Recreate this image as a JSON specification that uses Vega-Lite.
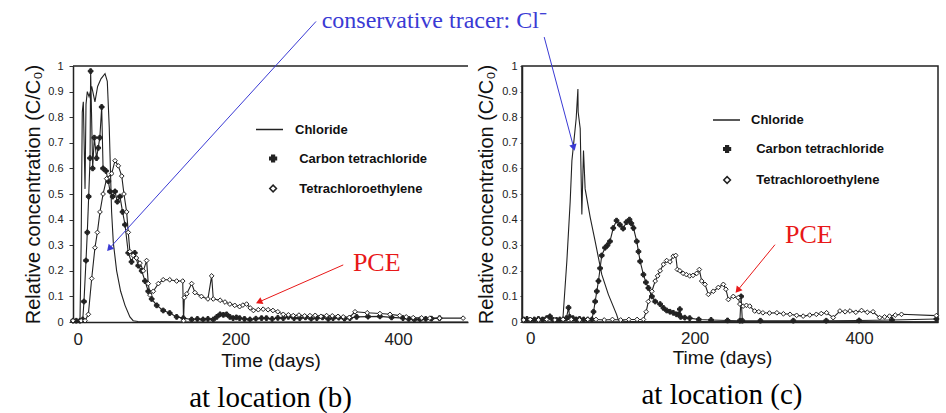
{
  "$schema": "https://vega.github.io/schema/vega-lite/v6.json",
  "background": "white",
  "padding": {"left": 23, "top": 9, "right": 8, "bottom": 0},
  "bounds": "flush",
  "spacing": 54,
  "datasets": {
    "b": [
      {"t":0,"c":0,"s":"Chloride"},{"t":5,"c":0.002,"s":"Chloride"},{"t":8.6,"c":0.005,"s":"Chloride"},{"t":10,"c":0.3,"s":"Chloride"},{"t":11.4,"c":0.82,"s":"Chloride"},{"t":12.7,"c":0.86,"s":"Chloride"},{"t":14.8,"c":0.52,"s":"Chloride"},{"t":16,"c":0.85,"s":"Chloride"},{"t":17.6,"c":0.9,"s":"Chloride"},{"t":19.8,"c":0.88,"s":"Chloride"},{"t":23,"c":0.92,"s":"Chloride"},{"t":27,"c":0.86,"s":"Chloride"},{"t":30.3,"c":0.92,"s":"Chloride"},{"t":34.4,"c":0.95,"s":"Chloride"},{"t":39.4,"c":0.97,"s":"Chloride"},{"t":42.2,"c":0.94,"s":"Chloride"},{"t":44.6,"c":0.76,"s":"Chloride"},{"t":47.5,"c":0.43,"s":"Chloride"},{"t":49.6,"c":0.31,"s":"Chloride"},{"t":53.7,"c":0.2,"s":"Chloride"},{"t":58.6,"c":0.12,"s":"Chloride"},{"t":64,"c":0.065,"s":"Chloride"},{"t":70,"c":0.02,"s":"Chloride"},{"t":74,"c":0.005,"s":"Chloride"},{"t":80,"c":0.002,"s":"Chloride"},{"t":150,"c":0,"s":"Chloride"},{"t":486,"c":0,"s":"Chloride"},
      {"t":0,"c":0.005,"s":"Carbon tetrachloride"},{"t":4,"c":0.005,"s":"Carbon tetrachloride"},{"t":8.6,"c":0.005,"s":"Carbon tetrachloride"},{"t":12,"c":0.01,"s":"Carbon tetrachloride"},{"t":13.5,"c":0.08,"s":"Carbon tetrachloride"},{"t":16,"c":0.24,"s":"Carbon tetrachloride"},{"t":17.6,"c":0.35,"s":"Carbon tetrachloride"},{"t":19.3,"c":0.49,"s":"Carbon tetrachloride"},{"t":21,"c":0.64,"s":"Carbon tetrachloride"},{"t":21.7,"c":0.98,"s":"Carbon tetrachloride"},{"t":24.2,"c":0.6,"s":"Carbon tetrachloride"},{"t":26.2,"c":0.72,"s":"Carbon tetrachloride"},{"t":29,"c":0.64,"s":"Carbon tetrachloride"},{"t":31,"c":0.68,"s":"Carbon tetrachloride"},{"t":33,"c":0.72,"s":"Carbon tetrachloride"},{"t":35.3,"c":0.84,"s":"Carbon tetrachloride"},{"t":37,"c":0.6,"s":"Carbon tetrachloride"},{"t":40.6,"c":0.59,"s":"Carbon tetrachloride"},{"t":43.5,"c":0.55,"s":"Carbon tetrachloride"},{"t":45.5,"c":0.51,"s":"Carbon tetrachloride"},{"t":48.8,"c":0.49,"s":"Carbon tetrachloride"},{"t":51.7,"c":0.51,"s":"Carbon tetrachloride"},{"t":54.5,"c":0.47,"s":"Carbon tetrachloride"},{"t":57.8,"c":0.49,"s":"Carbon tetrachloride"},{"t":61,"c":0.43,"s":"Carbon tetrachloride"},{"t":64,"c":0.38,"s":"Carbon tetrachloride"},{"t":68,"c":0.27,"s":"Carbon tetrachloride"},{"t":72,"c":0.235,"s":"Carbon tetrachloride"},{"t":76,"c":0.27,"s":"Carbon tetrachloride"},{"t":80.3,"c":0.22,"s":"Carbon tetrachloride"},{"t":84.5,"c":0.2,"s":"Carbon tetrachloride"},{"t":88.6,"c":0.16,"s":"Carbon tetrachloride"},{"t":92.6,"c":0.12,"s":"Carbon tetrachloride"},{"t":96.8,"c":0.09,"s":"Carbon tetrachloride"},{"t":103,"c":0.065,"s":"Carbon tetrachloride"},{"t":111,"c":0.045,"s":"Carbon tetrachloride"},{"t":119,"c":0.035,"s":"Carbon tetrachloride"},{"t":127.5,"c":0.02,"s":"Carbon tetrachloride"},{"t":135.7,"c":0.015,"s":"Carbon tetrachloride"},{"t":146,"c":0.01,"s":"Carbon tetrachloride"},{"t":153,"c":0.012,"s":"Carbon tetrachloride"},{"t":160,"c":0.01,"s":"Carbon tetrachloride"},{"t":166,"c":0.012,"s":"Carbon tetrachloride"},{"t":172.6,"c":0.01,"s":"Carbon tetrachloride"},{"t":177,"c":0.02,"s":"Carbon tetrachloride"},{"t":181,"c":0.03,"s":"Carbon tetrachloride"},{"t":185,"c":0.028,"s":"Carbon tetrachloride"},{"t":189,"c":0.03,"s":"Carbon tetrachloride"},{"t":193,"c":0.02,"s":"Carbon tetrachloride"},{"t":197,"c":0.015,"s":"Carbon tetrachloride"},{"t":201,"c":0.018,"s":"Carbon tetrachloride"},{"t":205,"c":0.015,"s":"Carbon tetrachloride"},{"t":211,"c":0.012,"s":"Carbon tetrachloride"},{"t":217.7,"c":0.01,"s":"Carbon tetrachloride"},{"t":225,"c":0.013,"s":"Carbon tetrachloride"},{"t":232,"c":0.015,"s":"Carbon tetrachloride"},{"t":238,"c":0.015,"s":"Carbon tetrachloride"},{"t":245,"c":0.012,"s":"Carbon tetrachloride"},{"t":252,"c":0.016,"s":"Carbon tetrachloride"},{"t":258.7,"c":0.015,"s":"Carbon tetrachloride"},{"t":265,"c":0.02,"s":"Carbon tetrachloride"},{"t":272,"c":0.015,"s":"Carbon tetrachloride"},{"t":279,"c":0.015,"s":"Carbon tetrachloride"},{"t":286,"c":0.018,"s":"Carbon tetrachloride"},{"t":293,"c":0.013,"s":"Carbon tetrachloride"},{"t":300,"c":0.015,"s":"Carbon tetrachloride"},{"t":307,"c":0.018,"s":"Carbon tetrachloride"},{"t":314,"c":0.012,"s":"Carbon tetrachloride"},{"t":320,"c":0.015,"s":"Carbon tetrachloride"},{"t":327,"c":0.017,"s":"Carbon tetrachloride"},{"t":334,"c":0.013,"s":"Carbon tetrachloride"},{"t":340.7,"c":0.015,"s":"Carbon tetrachloride"},{"t":349,"c":0.02,"s":"Carbon tetrachloride"},{"t":363,"c":0.021,"s":"Carbon tetrachloride"},{"t":377.6,"c":0.022,"s":"Carbon tetrachloride"},{"t":392,"c":0.018,"s":"Carbon tetrachloride"},{"t":406,"c":0.015,"s":"Carbon tetrachloride"},{"t":413,"c":0.012,"s":"Carbon tetrachloride"},{"t":420,"c":0.01,"s":"Carbon tetrachloride"},{"t":427,"c":0.01,"s":"Carbon tetrachloride"},{"t":434,"c":0.012,"s":"Carbon tetrachloride"},{"t":441,"c":0.013,"s":"Carbon tetrachloride"},{"t":451,"c":0.015,"s":"Carbon tetrachloride"},
      {"t":0,"c":0.005,"s":"Tetrachloroethylene"},{"t":10,"c":0.005,"s":"Tetrachloroethylene"},{"t":14.8,"c":0.005,"s":"Tetrachloroethylene"},{"t":18.9,"c":0.03,"s":"Tetrachloroethylene"},{"t":23,"c":0.17,"s":"Tetrachloroethylene"},{"t":27,"c":0.29,"s":"Tetrachloroethylene"},{"t":30,"c":0.35,"s":"Tetrachloroethylene"},{"t":33.2,"c":0.43,"s":"Tetrachloroethylene"},{"t":37,"c":0.5,"s":"Tetrachloroethylene"},{"t":41.4,"c":0.56,"s":"Tetrachloroethylene"},{"t":47.6,"c":0.58,"s":"Tetrachloroethylene"},{"t":51.7,"c":0.63,"s":"Tetrachloroethylene"},{"t":55.7,"c":0.61,"s":"Tetrachloroethylene"},{"t":60,"c":0.57,"s":"Tetrachloroethylene"},{"t":62.7,"c":0.5,"s":"Tetrachloroethylene"},{"t":66,"c":0.43,"s":"Tetrachloroethylene"},{"t":68,"c":0.35,"s":"Tetrachloroethylene"},{"t":70,"c":0.275,"s":"Tetrachloroethylene"},{"t":74,"c":0.26,"s":"Tetrachloroethylene"},{"t":78,"c":0.25,"s":"Tetrachloroethylene"},{"t":82.4,"c":0.23,"s":"Tetrachloroethylene"},{"t":86.5,"c":0.2,"s":"Tetrachloroethylene"},{"t":90.6,"c":0.24,"s":"Tetrachloroethylene"},{"t":92.6,"c":0.15,"s":"Tetrachloroethylene"},{"t":94.7,"c":0.105,"s":"Tetrachloroethylene"},{"t":98.8,"c":0.12,"s":"Tetrachloroethylene"},{"t":105,"c":0.15,"s":"Tetrachloroethylene"},{"t":111,"c":0.165,"s":"Tetrachloroethylene"},{"t":119,"c":0.165,"s":"Tetrachloroethylene"},{"t":127.5,"c":0.16,"s":"Tetrachloroethylene"},{"t":135,"c":0.16,"s":"Tetrachloroethylene"},{"t":136,"c":0.005,"s":"Tetrachloroethylene"},{"t":137,"c":0.095,"s":"Tetrachloroethylene"},{"t":140,"c":0.11,"s":"Tetrachloroethylene"},{"t":146,"c":0.15,"s":"Tetrachloroethylene"},{"t":150,"c":0.115,"s":"Tetrachloroethylene"},{"t":158,"c":0.1,"s":"Tetrachloroethylene"},{"t":166,"c":0.09,"s":"Tetrachloroethylene"},{"t":170.6,"c":0.18,"s":"Tetrachloroethylene"},{"t":172.6,"c":0.09,"s":"Tetrachloroethylene"},{"t":181,"c":0.085,"s":"Tetrachloroethylene"},{"t":187,"c":0.078,"s":"Tetrachloroethylene"},{"t":193,"c":0.07,"s":"Tetrachloroethylene"},{"t":199,"c":0.065,"s":"Tetrachloroethylene"},{"t":205,"c":0.06,"s":"Tetrachloroethylene"},{"t":209,"c":0.066,"s":"Tetrachloroethylene"},{"t":213.6,"c":0.07,"s":"Tetrachloroethylene"},{"t":218,"c":0.055,"s":"Tetrachloroethylene"},{"t":222,"c":0.045,"s":"Tetrachloroethylene"},{"t":228,"c":0.048,"s":"Tetrachloroethylene"},{"t":234,"c":0.05,"s":"Tetrachloroethylene"},{"t":240,"c":0.048,"s":"Tetrachloroethylene"},{"t":246,"c":0.045,"s":"Tetrachloroethylene"},{"t":252,"c":0.04,"s":"Tetrachloroethylene"},{"t":258.7,"c":0.03,"s":"Tetrachloroethylene"},{"t":265,"c":0.028,"s":"Tetrachloroethylene"},{"t":271,"c":0.025,"s":"Tetrachloroethylene"},{"t":278,"c":0.027,"s":"Tetrachloroethylene"},{"t":285,"c":0.024,"s":"Tetrachloroethylene"},{"t":291.5,"c":0.025,"s":"Tetrachloroethylene"},{"t":298,"c":0.026,"s":"Tetrachloroethylene"},{"t":305,"c":0.022,"s":"Tetrachloroethylene"},{"t":312,"c":0.025,"s":"Tetrachloroethylene"},{"t":319,"c":0.024,"s":"Tetrachloroethylene"},{"t":326,"c":0.022,"s":"Tetrachloroethylene"},{"t":332.5,"c":0.02,"s":"Tetrachloroethylene"},{"t":340,"c":0.018,"s":"Tetrachloroethylene"},{"t":347,"c":0.04,"s":"Tetrachloroethylene"},{"t":362,"c":0.036,"s":"Tetrachloroethylene"},{"t":377.6,"c":0.033,"s":"Tetrachloroethylene"},{"t":390,"c":0.03,"s":"Tetrachloroethylene"},{"t":402,"c":0.025,"s":"Tetrachloroethylene"},{"t":410,"c":0.02,"s":"Tetrachloroethylene"},{"t":418.6,"c":0.017,"s":"Tetrachloroethylene"},{"t":429,"c":0.016,"s":"Tetrachloroethylene"},{"t":439,"c":0.015,"s":"Tetrachloroethylene"},{"t":451,"c":0.015,"s":"Tetrachloroethylene"},{"t":480,"c":0.015,"s":"Tetrachloroethylene"}
    ],
    "c": [
      {"t":-8,"c":0.005,"s":"Chloride"},{"t":0,"c":0.005,"s":"Chloride"},{"t":10,"c":0.005,"s":"Chloride"},{"t":20,"c":0.01,"s":"Chloride"},{"t":24,"c":0.02,"s":"Chloride"},{"t":28,"c":0.005,"s":"Chloride"},{"t":36,"c":0.003,"s":"Chloride"},{"t":39.7,"c":0.01,"s":"Chloride"},{"t":44.6,"c":0.24,"s":"Chloride"},{"t":48.6,"c":0.47,"s":"Chloride"},{"t":50.7,"c":0.63,"s":"Chloride"},{"t":52.6,"c":0.69,"s":"Chloride"},{"t":55.9,"c":0.795,"s":"Chloride"},{"t":58,"c":0.91,"s":"Chloride"},{"t":58.3,"c":0.82,"s":"Chloride"},{"t":60.8,"c":0.756,"s":"Chloride"},{"t":62.8,"c":0.42,"s":"Chloride"},{"t":64.8,"c":0.67,"s":"Chloride"},{"t":66.8,"c":0.52,"s":"Chloride"},{"t":72.9,"c":0.41,"s":"Chloride"},{"t":79,"c":0.315,"s":"Chloride"},{"t":87,"c":0.186,"s":"Chloride"},{"t":95,"c":0.108,"s":"Chloride"},{"t":105,"c":0.03,"s":"Chloride"},{"t":107,"c":0.01,"s":"Chloride"},{"t":115,"c":0.003,"s":"Chloride"},{"t":150,"c":0.002,"s":"Chloride"},{"t":250,"c":0.001,"s":"Chloride"},{"t":494,"c":0,"s":"Chloride"},
      {"t":-8,"c":0.01,"s":"Carbon tetrachloride"},{"t":-4,"c":0.012,"s":"Carbon tetrachloride"},{"t":0,"c":0.008,"s":"Carbon tetrachloride"},{"t":5,"c":0.01,"s":"Carbon tetrachloride"},{"t":10,"c":0.012,"s":"Carbon tetrachloride"},{"t":15,"c":0.01,"s":"Carbon tetrachloride"},{"t":20,"c":0.015,"s":"Carbon tetrachloride"},{"t":24,"c":0.022,"s":"Carbon tetrachloride"},{"t":28,"c":0.008,"s":"Carbon tetrachloride"},{"t":32,"c":0.008,"s":"Carbon tetrachloride"},{"t":36,"c":0.01,"s":"Carbon tetrachloride"},{"t":40,"c":0.01,"s":"Carbon tetrachloride"},{"t":44,"c":0.015,"s":"Carbon tetrachloride"},{"t":46.6,"c":0.056,"s":"Carbon tetrachloride"},{"t":48,"c":0.02,"s":"Carbon tetrachloride"},{"t":52,"c":0.015,"s":"Carbon tetrachloride"},{"t":56,"c":0.01,"s":"Carbon tetrachloride"},{"t":60,"c":0.012,"s":"Carbon tetrachloride"},{"t":65,"c":0.01,"s":"Carbon tetrachloride"},{"t":70,"c":0.01,"s":"Carbon tetrachloride"},{"t":75,"c":0.01,"s":"Carbon tetrachloride"},{"t":77,"c":0.04,"s":"Carbon tetrachloride"},{"t":79,"c":0.08,"s":"Carbon tetrachloride"},{"t":81,"c":0.12,"s":"Carbon tetrachloride"},{"t":83,"c":0.16,"s":"Carbon tetrachloride"},{"t":85,"c":0.21,"s":"Carbon tetrachloride"},{"t":87,"c":0.26,"s":"Carbon tetrachloride"},{"t":91,"c":0.29,"s":"Carbon tetrachloride"},{"t":94,"c":0.3,"s":"Carbon tetrachloride"},{"t":97,"c":0.315,"s":"Carbon tetrachloride"},{"t":101,"c":0.367,"s":"Carbon tetrachloride"},{"t":105,"c":0.396,"s":"Carbon tetrachloride"},{"t":109,"c":0.38,"s":"Carbon tetrachloride"},{"t":113,"c":0.365,"s":"Carbon tetrachloride"},{"t":117,"c":0.39,"s":"Carbon tetrachloride"},{"t":120.7,"c":0.4,"s":"Carbon tetrachloride"},{"t":123,"c":0.385,"s":"Carbon tetrachloride"},{"t":125.6,"c":0.367,"s":"Carbon tetrachloride"},{"t":129.6,"c":0.315,"s":"Carbon tetrachloride"},{"t":131.7,"c":0.275,"s":"Carbon tetrachloride"},{"t":133.7,"c":0.237,"s":"Carbon tetrachloride"},{"t":137.7,"c":0.185,"s":"Carbon tetrachloride"},{"t":140.7,"c":0.155,"s":"Carbon tetrachloride"},{"t":143.7,"c":0.133,"s":"Carbon tetrachloride"},{"t":148,"c":0.1,"s":"Carbon tetrachloride"},{"t":152,"c":0.08,"s":"Carbon tetrachloride"},{"t":158,"c":0.07,"s":"Carbon tetrachloride"},{"t":162,"c":0.055,"s":"Carbon tetrachloride"},{"t":166,"c":0.045,"s":"Carbon tetrachloride"},{"t":170,"c":0.04,"s":"Carbon tetrachloride"},{"t":174,"c":0.036,"s":"Carbon tetrachloride"},{"t":178,"c":0.03,"s":"Carbon tetrachloride"},{"t":181,"c":0.03,"s":"Carbon tetrachloride"},{"t":182,"c":0.05,"s":"Carbon tetrachloride"},{"t":183,"c":0.02,"s":"Carbon tetrachloride"},{"t":188,"c":0.017,"s":"Carbon tetrachloride"},{"t":194,"c":0.015,"s":"Carbon tetrachloride"},{"t":205,"c":0.01,"s":"Carbon tetrachloride"},{"t":220,"c":0.008,"s":"Carbon tetrachloride"},{"t":240,"c":0.006,"s":"Carbon tetrachloride"},{"t":255,"c":0.005,"s":"Carbon tetrachloride"},{"t":256.5,"c":0.1,"s":"Carbon tetrachloride"},{"t":258,"c":0.005,"s":"Carbon tetrachloride"},{"t":280,"c":0.005,"s":"Carbon tetrachloride"},{"t":320,"c":0.005,"s":"Carbon tetrachloride"},{"t":360,"c":0.005,"s":"Carbon tetrachloride"},{"t":400,"c":0.006,"s":"Carbon tetrachloride"},{"t":440,"c":0.008,"s":"Carbon tetrachloride"},{"t":494,"c":0.012,"s":"Carbon tetrachloride"},
      {"t":-8,"c":0.008,"s":"Tetrachloroethylene"},{"t":0,"c":0.01,"s":"Tetrachloroethylene"},{"t":10,"c":0.008,"s":"Tetrachloroethylene"},{"t":20,"c":0.01,"s":"Tetrachloroethylene"},{"t":30,"c":0.008,"s":"Tetrachloroethylene"},{"t":40,"c":0.01,"s":"Tetrachloroethylene"},{"t":50,"c":0.01,"s":"Tetrachloroethylene"},{"t":60,"c":0.008,"s":"Tetrachloroethylene"},{"t":70,"c":0.01,"s":"Tetrachloroethylene"},{"t":80,"c":0.01,"s":"Tetrachloroethylene"},{"t":90,"c":0.008,"s":"Tetrachloroethylene"},{"t":100,"c":0.01,"s":"Tetrachloroethylene"},{"t":110,"c":0.008,"s":"Tetrachloroethylene"},{"t":120,"c":0.01,"s":"Tetrachloroethylene"},{"t":130,"c":0.01,"s":"Tetrachloroethylene"},{"t":137.7,"c":0.01,"s":"Tetrachloroethylene"},{"t":141,"c":0.04,"s":"Tetrachloroethylene"},{"t":143.7,"c":0.08,"s":"Tetrachloroethylene"},{"t":148,"c":0.12,"s":"Tetrachloroethylene"},{"t":152,"c":0.16,"s":"Tetrachloroethylene"},{"t":155,"c":0.18,"s":"Tetrachloroethylene"},{"t":158,"c":0.2,"s":"Tetrachloroethylene"},{"t":162,"c":0.225,"s":"Tetrachloroethylene"},{"t":166,"c":0.24,"s":"Tetrachloroethylene"},{"t":170,"c":0.235,"s":"Tetrachloroethylene"},{"t":174,"c":0.257,"s":"Tetrachloroethylene"},{"t":177,"c":0.26,"s":"Tetrachloroethylene"},{"t":179,"c":0.205,"s":"Tetrachloroethylene"},{"t":182,"c":0.2,"s":"Tetrachloroethylene"},{"t":186,"c":0.19,"s":"Tetrachloroethylene"},{"t":190,"c":0.185,"s":"Tetrachloroethylene"},{"t":194,"c":0.18,"s":"Tetrachloroethylene"},{"t":198,"c":0.182,"s":"Tetrachloroethylene"},{"t":202.5,"c":0.19,"s":"Tetrachloroethylene"},{"t":205.7,"c":0.205,"s":"Tetrachloroethylene"},{"t":208.6,"c":0.16,"s":"Tetrachloroethylene"},{"t":212.6,"c":0.147,"s":"Tetrachloroethylene"},{"t":216.7,"c":0.108,"s":"Tetrachloroethylene"},{"t":222.7,"c":0.12,"s":"Tetrachloroethylene"},{"t":228.8,"c":0.135,"s":"Tetrachloroethylene"},{"t":234.9,"c":0.147,"s":"Tetrachloroethylene"},{"t":238,"c":0.128,"s":"Tetrachloroethylene"},{"t":241,"c":0.088,"s":"Tetrachloroethylene"},{"t":247,"c":0.1,"s":"Tetrachloroethylene"},{"t":253,"c":0.095,"s":"Tetrachloroethylene"},{"t":255,"c":0.07,"s":"Tetrachloroethylene"},{"t":259,"c":0.062,"s":"Tetrachloroethylene"},{"t":263,"c":0.065,"s":"Tetrachloroethylene"},{"t":267,"c":0.062,"s":"Tetrachloroethylene"},{"t":273,"c":0.043,"s":"Tetrachloroethylene"},{"t":278,"c":0.04,"s":"Tetrachloroethylene"},{"t":283,"c":0.036,"s":"Tetrachloroethylene"},{"t":291,"c":0.035,"s":"Tetrachloroethylene"},{"t":300,"c":0.036,"s":"Tetrachloroethylene"},{"t":308,"c":0.032,"s":"Tetrachloroethylene"},{"t":316,"c":0.03,"s":"Tetrachloroethylene"},{"t":324,"c":0.026,"s":"Tetrachloroethylene"},{"t":332,"c":0.023,"s":"Tetrachloroethylene"},{"t":340,"c":0.027,"s":"Tetrachloroethylene"},{"t":348,"c":0.03,"s":"Tetrachloroethylene"},{"t":354,"c":0.033,"s":"Tetrachloroethylene"},{"t":360.5,"c":0.036,"s":"Tetrachloroethylene"},{"t":368.5,"c":0.017,"s":"Tetrachloroethylene"},{"t":376.7,"c":0.043,"s":"Tetrachloroethylene"},{"t":383,"c":0.04,"s":"Tetrachloroethylene"},{"t":389,"c":0.043,"s":"Tetrachloroethylene"},{"t":396,"c":0.038,"s":"Tetrachloroethylene"},{"t":403,"c":0.045,"s":"Tetrachloroethylene"},{"t":410,"c":0.038,"s":"Tetrachloroethylene"},{"t":417,"c":0.04,"s":"Tetrachloroethylene"},{"t":425,"c":0.017,"s":"Tetrachloroethylene"},{"t":431,"c":0.02,"s":"Tetrachloroethylene"},{"t":437,"c":0.023,"s":"Tetrachloroethylene"},{"t":444,"c":0.027,"s":"Tetrachloroethylene"},{"t":451.6,"c":0.03,"s":"Tetrachloroethylene"},{"t":494,"c":0.025,"s":"Tetrachloroethylene"}
    ]
  },
  "hconcat": [
    {
      "width": 395,
      "height": 256,
      "view": {"stroke": null},
      "title": {"text": "at location (b)", "orient": "bottom", "font": "Liberation Serif", "fontSize": 29, "fontWeight": "normal", "color": "#000", "offset": 14},
      "layer": [
        {
          "data": {"name": "b"},
          "mark": {"type": "line", "color": "#222", "strokeWidth": 1.1},
          "encoding": {
            "x": {"field": "t", "type": "quantitative", "scale": {"domain": [0, 486], "nice": false, "zero": false},
                  "axis": {"values": [0, 200, 400], "title": "Time (days)", "labelFontSize": 17, "titleFontSize": 19, "tickSize": 0, "labelPadding": 9, "titlePadding": 4}},
            "y": {"field": "c", "type": "quantitative", "scale": {"domain": [0, 1], "nice": false},
                  "axis": {"values": [0, 0.1, 0.2, 0.3, 0.4, 0.5, 0.6, 0.7, 0.8, 0.9, 1], "format": "~g", "labelOverlap": false, "tickCount": 11, "title": "Relative concentration (C/C₀)", "labelFontSize": 11, "titleFontSize": 20, "tickSize": 4, "labelPadding": 6, "titlePadding": 4}},
            "stroke": {"field": "s", "type": "nominal",
                       "scale": {"domain": ["Chloride", "Carbon tetrachloride", "Tetrachloroethylene"], "range": ["#222", "#222", "#222"]},
                       "legend": {"values": ["Chloride"], "title": null, "orient": "none", "legendX": 182, "legendY": 49, "symbolType": "stroke", "symbolSize": 729, "symbolStrokeWidth": 1.5, "symbolStrokeColor": "#222", "labelOffset": 11, "padding": 0}}
          }
        },
        {
          "data": {"name": "b"},
          "transform": [{"aggregate": [{"op": "max", "field": "c", "as": "cmax"}]}],
          "mark": {"type": "rule", "color": "#222", "strokeWidth": 1.5},
          "encoding": {
            "y": {"datum": 1, "type": "quantitative", "scale": {"domain": [0, 1], "nice": false}}
          }
        },
        {
          "data": {"name": "b"},
          "transform": [{"filter": "datum.s != 'Chloride'"}],
          "mark": {"type": "point", "filled": true, "stroke": "#222", "strokeWidth": 1, "size": 22, "opacity": 1},
          "encoding": {
            "x": {"field": "t", "type": "quantitative", "scale": {"domain": [0, 486], "nice": false, "zero": false}},
            "y": {"field": "c", "type": "quantitative", "scale": {"domain": [0, 1], "nice": false}},
            "shape": {"field": "s", "type": "nominal",
                      "scale": {"domain": ["Carbon tetrachloride", "Tetrachloroethylene"], "range": ["cross", "diamond"]},
                      "legend": {"title": null, "orient": "none", "legendX": 193.6, "legendY": 86, "symbolSize": 45, "labelOffset": 19.6, "rowPadding": 16, "padding": 0,
                                 "encode": {"symbols": {"update": {"stroke": {"value": "#222"}, "strokeWidth": {"value": 1.2}}}}}},
            "fill": {"field": "s", "type": "nominal",
                     "scale": {"domain": ["Carbon tetrachloride", "Tetrachloroethylene"], "range": ["#222", "#ffffff"]},
                     "legend": {"title": null, "orient": "none", "legendX": 193.6, "legendY": 86, "symbolSize": 45, "labelOffset": 19.6, "rowPadding": 16, "padding": 0,
                                "encode": {"symbols": {"update": {"stroke": {"value": "#222"}, "strokeWidth": {"value": 1.2}}}}}}
          }
        },
        {
          "data": {"values": [{"x0": 299, "y0": 1.174, "x1": 45.5, "y1": 0.29}]},
          "mark": {"type": "rule", "color": "#3a3ad4", "strokeWidth": 1},
          "encoding": {
            "x": {"field": "x0", "type": "quantitative", "scale": {"domain": [0, 486], "nice": false, "zero": false}},
            "y": {"field": "y0", "type": "quantitative", "scale": {"domain": [0, 1], "nice": false}},
            "x2": {"field": "x1"},
            "y2": {"field": "y1"}
          }
        },
        {
          "data": {"values": [{"x1": 45.5, "y1": 0.29}]},
          "mark": {"type": "point", "shape": "triangle", "filled": true, "color": "#3a3ad4", "size": 55, "angle": 222, "opacity": 1},
          "encoding": {
            "x": {"field": "x1", "type": "quantitative", "scale": {"domain": [0, 486], "nice": false, "zero": false}},
            "y": {"field": "y1", "type": "quantitative", "scale": {"domain": [0, 1], "nice": false}}
          }
        },
        {
          "data": {"values": [{"x0": 332.5, "y0": 0.223, "x1": 230, "y1": 0.08}]},
          "mark": {"type": "rule", "color": "#e81818", "strokeWidth": 1},
          "encoding": {
            "x": {"field": "x0", "type": "quantitative", "scale": {"domain": [0, 486], "nice": false, "zero": false}},
            "y": {"field": "y0", "type": "quantitative", "scale": {"domain": [0, 1], "nice": false}},
            "x2": {"field": "x1"},
            "y2": {"field": "y1"}
          }
        },
        {
          "data": {"values": [{"x1": 230, "y1": 0.08}]},
          "mark": {"type": "point", "shape": "triangle", "filled": true, "color": "#e81818", "size": 55, "angle": 246, "opacity": 1},
          "encoding": {
            "x": {"field": "x1", "type": "quantitative", "scale": {"domain": [0, 486], "nice": false, "zero": false}},
            "y": {"field": "y1", "type": "quantitative", "scale": {"domain": [0, 1], "nice": false}}
          }
        },
        {
          "data": {"values": [{"x": 306, "y": 1.174, "label": "conservative tracer: Cl⁻"}]},
          "mark": {"type": "text", "align": "left", "baseline": "middle", "font": "Liberation Serif", "fontSize": 24, "color": "#3a3ad4"},
          "encoding": {
            "x": {"field": "x", "type": "quantitative", "scale": {"domain": [0, 486], "nice": false, "zero": false}},
            "y": {"field": "y", "type": "quantitative", "scale": {"domain": [0, 1], "nice": false}},
            "text": {"field": "label"}
          }
        },
        {
          "data": {"values": [{"x": 344.4, "y": 0.232, "label": "PCE"}]},
          "mark": {"type": "text", "align": "left", "baseline": "middle", "font": "Liberation Serif", "fontSize": 26, "color": "#e81818"},
          "encoding": {
            "x": {"field": "x", "type": "quantitative", "scale": {"domain": [0, 486], "nice": false, "zero": false}},
            "y": {"field": "y", "type": "quantitative", "scale": {"domain": [0, 1], "nice": false}},
            "text": {"field": "label"}
          }
        }
      ]
    },
    {
      "width": 416,
      "height": 256,
      "title": {"text": "at location (c)", "orient": "bottom", "font": "Liberation Serif", "fontSize": 29, "fontWeight": "normal", "color": "#000", "offset": 14, "dx": -8},
      "layer": [
        {
          "data": {"name": "c"},
          "mark": {"type": "line", "color": "#222", "strokeWidth": 1.1},
          "encoding": {
            "x": {"field": "t", "type": "quantitative", "scale": {"domain": [-10, 496], "nice": false, "zero": false},
                  "axis": {"values": [0, 200, 400], "title": "Time (days)", "labelFontSize": 17, "titleFontSize": 19, "tickSize": 0, "labelPadding": 8, "titlePadding": 2, "titleX": 200}},
            "y": {"field": "c", "type": "quantitative", "scale": {"domain": [0, 1], "nice": false},
                  "axis": {"values": [0, 0.1, 0.2, 0.3, 0.4, 0.5, 0.6, 0.7, 0.8, 0.9, 1], "format": "~g", "labelOverlap": false, "tickCount": 11, "title": "Relative concentration (C/C₀)", "labelFontSize": 11, "titleFontSize": 20, "tickSize": 2, "labelPadding": 3, "titlePadding": 5}},
            "stroke": {"field": "s", "type": "nominal",
                       "scale": {"domain": ["Chloride", "Carbon tetrachloride", "Tetrachloroethylene"], "range": ["#222", "#222", "#222"]},
                       "legend": {"values": ["Chloride"], "title": null, "orient": "none", "legendX": 190, "legendY": 39.5, "symbolType": "stroke", "symbolSize": 729, "symbolStrokeWidth": 1.5, "symbolStrokeColor": "#222", "labelOffset": 10, "padding": 0}}
          }
        },
        {
          "data": {"name": "c"},
          "transform": [{"filter": "datum.s != 'Chloride'"}],
          "mark": {"type": "point", "filled": true, "stroke": "#222", "strokeWidth": 1, "size": 22, "opacity": 1},
          "encoding": {
            "x": {"field": "t", "type": "quantitative", "scale": {"domain": [-10, 496], "nice": false, "zero": false}},
            "y": {"field": "c", "type": "quantitative", "scale": {"domain": [0, 1], "nice": false}},
            "shape": {"field": "s", "type": "nominal",
                      "scale": {"domain": ["Carbon tetrachloride", "Tetrachloroethylene"], "range": ["cross", "diamond"]},
                      "legend": {"title": null, "orient": "none", "legendX": 198.6, "legendY": 76.5, "symbolSize": 45, "labelOffset": 22.6, "rowPadding": 17, "padding": 0,
                                 "encode": {"symbols": {"update": {"stroke": {"value": "#222"}, "strokeWidth": {"value": 1.2}}}}}},
            "fill": {"field": "s", "type": "nominal",
                     "scale": {"domain": ["Carbon tetrachloride", "Tetrachloroethylene"], "range": ["#222", "#ffffff"]},
                     "legend": {"title": null, "orient": "none", "legendX": 198.6, "legendY": 76.5, "symbolSize": 45, "labelOffset": 22.6, "rowPadding": 17, "padding": 0,
                                "encode": {"symbols": {"update": {"stroke": {"value": "#222"}, "strokeWidth": {"value": 1.2}}}}}}
          }
        },
        {
          "data": {"values": [{"x0": 17, "y0": 1.113, "x1": 52.6, "y1": 0.685}]},
          "mark": {"type": "rule", "color": "#3a3ad4", "strokeWidth": 1},
          "encoding": {
            "x": {"field": "x0", "type": "quantitative", "scale": {"domain": [-10, 496], "nice": false, "zero": false}},
            "y": {"field": "y0", "type": "quantitative", "scale": {"domain": [0, 1], "nice": false}},
            "x2": {"field": "x1"},
            "y2": {"field": "y1"}
          }
        },
        {
          "data": {"values": [{"x1": 52.6, "y1": 0.685}]},
          "mark": {"type": "point", "shape": "triangle", "filled": true, "color": "#3a3ad4", "size": 55, "angle": 165, "opacity": 1},
          "encoding": {
            "x": {"field": "x1", "type": "quantitative", "scale": {"domain": [-10, 496], "nice": false, "zero": false}},
            "y": {"field": "y1", "type": "quantitative", "scale": {"domain": [0, 1], "nice": false}}
          }
        },
        {
          "data": {"values": [{"x0": 297.7, "y0": 0.302, "x1": 253.1, "y1": 0.127}]},
          "mark": {"type": "rule", "color": "#e81818", "strokeWidth": 1},
          "encoding": {
            "x": {"field": "x0", "type": "quantitative", "scale": {"domain": [-10, 496], "nice": false, "zero": false}},
            "y": {"field": "y0", "type": "quantitative", "scale": {"domain": [0, 1], "nice": false}},
            "x2": {"field": "x1"},
            "y2": {"field": "y1"}
          }
        },
        {
          "data": {"values": [{"x1": 253.1, "y1": 0.127}]},
          "mark": {"type": "point", "shape": "triangle", "filled": true, "color": "#e81818", "size": 55, "angle": 219, "opacity": 1},
          "encoding": {
            "x": {"field": "x1", "type": "quantitative", "scale": {"domain": [-10, 496], "nice": false, "zero": false}},
            "y": {"field": "y1", "type": "quantitative", "scale": {"domain": [0, 1], "nice": false}}
          }
        },
        {
          "data": {"values": [{"x": 309.8, "y": 0.338, "label": "PCE"}]},
          "mark": {"type": "text", "align": "left", "baseline": "middle", "font": "Liberation Serif", "fontSize": 26, "color": "#e81818"},
          "encoding": {
            "x": {"field": "x", "type": "quantitative", "scale": {"domain": [-10, 496], "nice": false, "zero": false}},
            "y": {"field": "y", "type": "quantitative", "scale": {"domain": [0, 1], "nice": false}},
            "text": {"field": "label"}
          }
        }
      ]
    }
  ],
  "resolve": {
    "scale": {"stroke": "independent", "shape": "independent", "fill": "independent"},
    "legend": {"stroke": "independent", "shape": "independent", "fill": "independent"}
  },
  "config": {
    "view": {"stroke": "#222", "strokeWidth": 1.5},
    "axis": {"grid": false, "labelOverlap": false, "domainColor": "#222", "domainWidth": 1.5, "tickColor": "#333", "labelColor": "#222", "titleColor": "#111", "labelFont": "Liberation Sans", "titleFont": "Liberation Sans", "titleFontWeight": "normal"},
    "legend": {"labelFont": "Liberation Sans", "labelFontSize": 13, "labelFontWeight": "bold", "labelColor": "#111"},
    "title": {"anchor": "middle"}
  }
}
